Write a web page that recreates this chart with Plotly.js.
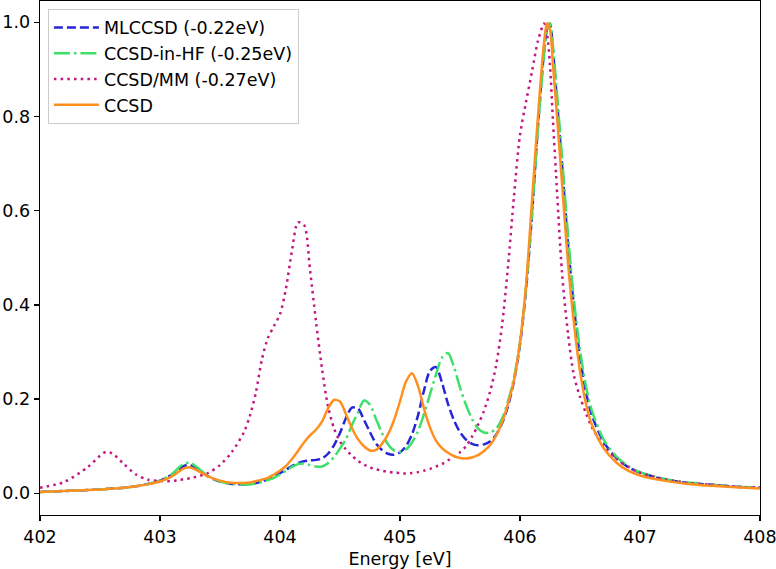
<!DOCTYPE html>
<html>
<head>
<meta charset="utf-8">
<script src="https://cdn.plot.ly/plotly-3.0.1.min.js"></script>
<style>html,body{margin:0;padding:0;background:#fff;}#chart{width:776px;height:569px;}</style>
</head>
<body>
<div id="chart"></div>
<script>
const energy = [402.0,402.2,402.4,402.5,402.55,402.6,402.7,402.8,402.9,403.0,
403.1,403.15,403.2,403.25,403.3,403.4,403.5,403.6,403.7,403.75,
403.8,403.85,403.9,403.95,404.0,404.05,404.1,404.15,404.2,404.25,
404.3,404.35,404.4,404.45,404.5,404.55,404.6,404.65,404.7,404.75,
404.8,404.85,404.9,404.95,405.0,405.05,405.1,405.15,405.2,405.25,
405.3,405.35,405.4,405.45,405.5,405.55,405.6,405.65,405.7,405.75,
405.8,405.85,405.9,405.95,406.0,406.05,406.1,406.15,406.2,406.225,
406.25,406.275,406.3,406.35,406.4,406.45,406.5,406.55,406.6,406.7,
406.8,406.9,407.0,407.2,407.4,407.6,407.8,408.0];

const mlccsd = [0.003,0.005,0.007,0.008,0.009,0.010,0.012,0.015,0.020,0.027,
0.040,0.050,0.058,0.060,0.053,0.036,0.025,0.020,0.019,0.020,
0.022,0.025,0.030,0.036,0.043,0.050,0.058,0.064,0.068,0.070,
0.071,0.074,0.084,0.102,0.128,0.160,0.182,0.180,0.156,0.130,
0.106,0.092,0.084,0.082,0.087,0.100,0.125,0.165,0.218,0.260,
0.268,0.235,0.190,0.155,0.130,0.114,0.105,0.102,0.104,0.110,
0.124,0.148,0.185,0.238,0.315,0.430,0.590,0.780,0.935,0.985,
0.997,0.940,0.860,0.700,0.530,0.395,0.290,0.215,0.165,0.108,
0.076,0.056,0.044,0.030,0.022,0.018,0.014,0.012];

const ccsdInHF = [0.003,0.005,0.007,0.008,0.009,0.010,0.012,0.015,0.020,0.027,
0.041,0.053,0.063,0.065,0.057,0.037,0.025,0.020,0.019,0.019,
0.021,0.024,0.028,0.033,0.040,0.048,0.056,0.062,0.063,0.060,
0.057,0.057,0.064,0.077,0.095,0.115,0.145,0.172,0.197,0.188,
0.158,0.128,0.104,0.091,0.088,0.093,0.108,0.132,0.168,0.210,
0.252,0.288,0.298,0.268,0.225,0.188,0.158,0.138,0.129,0.129,
0.137,0.158,0.195,0.245,0.320,0.435,0.590,0.775,0.930,0.982,
0.998,0.950,0.875,0.715,0.550,0.410,0.305,0.228,0.175,0.113,
0.079,0.058,0.045,0.031,0.023,0.018,0.014,0.012];

const ccsdMM = [0.012,0.024,0.056,0.080,0.088,0.085,0.062,0.040,0.029,0.026,
0.026,0.028,0.030,0.032,0.035,0.043,0.060,0.088,0.130,0.165,
0.215,0.285,0.330,0.355,0.380,0.435,0.515,0.575,0.570,0.475,
0.365,0.265,0.185,0.138,0.110,0.093,0.080,0.069,0.061,0.055,
0.051,0.048,0.046,0.044,0.043,0.042,0.043,0.045,0.048,0.052,
0.057,0.062,0.070,0.078,0.087,0.100,0.120,0.145,0.175,0.215,
0.270,0.355,0.480,0.630,0.760,0.830,0.895,0.960,0.997,0.975,
0.910,0.790,0.680,0.470,0.340,0.250,0.205,0.170,0.140,0.100,
0.074,0.056,0.044,0.030,0.022,0.018,0.014,0.012];

const ccsd = [0.003,0.005,0.007,0.008,0.009,0.010,0.012,0.015,0.019,0.025,
0.036,0.045,0.053,0.055,0.050,0.036,0.027,0.022,0.022,0.023,
0.026,0.029,0.033,0.040,0.048,0.058,0.073,0.090,0.108,0.123,
0.135,0.152,0.180,0.198,0.195,0.168,0.138,0.115,0.100,0.091,
0.092,0.105,0.125,0.155,0.195,0.237,0.255,0.228,0.180,0.140,
0.112,0.096,0.086,0.079,0.075,0.074,0.076,0.081,0.090,0.102,
0.122,0.150,0.190,0.240,0.320,0.440,0.620,0.800,0.955,0.998,
0.985,0.910,0.830,0.660,0.490,0.360,0.260,0.190,0.145,0.095,
0.066,0.048,0.038,0.027,0.020,0.016,0.013,0.010];

const seriesNames = ['MLCCSD (-0.22eV)','CCSD-in-HF (-0.25eV)','CCSD/MM (-0.27eV)','CCSD'];
const xTicks = [402,403,404,405,406,407,408];
const yTicks = [0.0,0.2,0.4,0.6,0.8,1.0];

const FONT = 'DejaVu Sans, sans-serif';
const styles = [
  {color:'#2626d6', dash:'9px,4px'},
  {color:'#3ee06a', dash:'16px,4px,2.5px,4px'},
  {color:'#c2177f', dash:'2.5px,4.2px'},
  {color:'#ff9020', dash:'solid'}
];
const ys = [mlccsd, ccsdInHF, ccsdMM, ccsd];
const traces = ys.map((y,i)=>({
  x: energy, y: y, type:'scatter', mode:'lines', name: seriesNames[i],
  line:{color:styles[i].color, width:2.5, dash:styles[i].dash, shape:'spline', smoothing:0.8}
}));

const layout = {
  width:776, height:569,
  margin:{l:40, r:16, t:1, b:54},
  paper_bgcolor:'#ffffff', plot_bgcolor:'#ffffff',
  font:{family:FONT, size:17.5, color:'#000'},
  showlegend:true,
  legend:{x:0.011, y:0.985, xanchor:'left', yanchor:'top', itemwidth:45,
    bgcolor:'rgba(255,255,255,0.8)', bordercolor:'#cccccc', borderwidth:1,
    font:{family:FONT, size:17.5, color:'#000'}, tracegroupgap:0},
  xaxis:{range:[402,408.0005], tickvals:xTicks, ticktext:xTicks.map(String),
    showgrid:false, zeroline:false, showline:true, mirror:true, linecolor:'#000', linewidth:1.3,
    ticks:'outside', ticklen:5, tickwidth:1.3, tickcolor:'#000', ticklabelstandoff:1,
    ticklabeloverflow:'allow',
    tickfont:{family:FONT, size:17.5},
    title:{text:'Energy [eV]', font:{family:FONT, size:17.5}, standoff:8}},
  yaxis:{range:[-0.046,1.045], tickvals:yTicks, ticktext:yTicks.map(v=>v.toFixed(1)),
    showgrid:false, zeroline:false, showline:true, mirror:true, linecolor:'#000', linewidth:1.3,
    ticks:'outside', ticklen:5, tickwidth:1.3, tickcolor:'#000',
    tickfont:{family:FONT, size:17.5}}
};
Plotly.newPlot('chart', traces, layout, {displayModeBar:false, staticPlot:true});
</script>
</body>
</html>
